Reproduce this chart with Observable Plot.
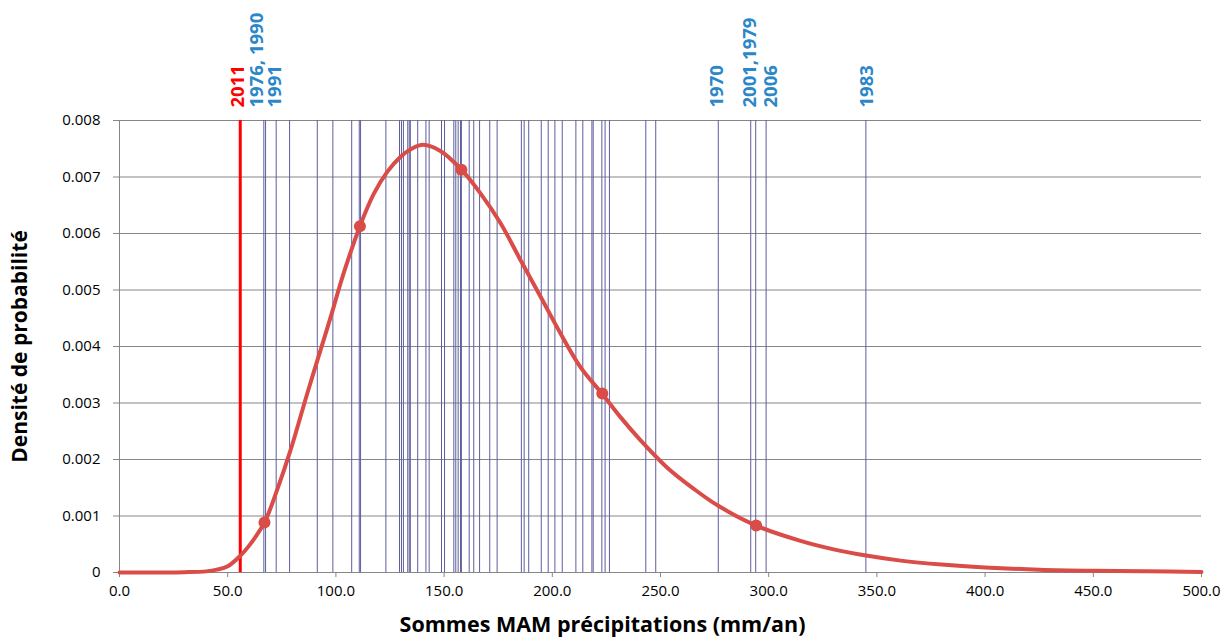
<!DOCTYPE html>
<html><head><meta charset="utf-8">
<script src="https://cdn.jsdelivr.net/npm/d3@7"></script>
<script src="https://cdn.jsdelivr.net/npm/@observablehq/plot@0.6"></script>
<style>body{margin:0;background:#fff} svg{display:block}</style>
</head><body><div id="chart"></div>
<script>
// Density curve (x: mm/an, y: probability density)
const curveX = [0, 20, 30, 40, 45, 50, 55.9, 60, 67, 73, 79, 86.7, 91.4, 97.5, 103.7, 111.1, 117.5, 123.7, 129.9, 135, 140.3, 148.3, 158, 166.8, 176.1, 185.3, 194.6, 203.8, 213.1, 223.1, 231.5, 240.8, 253, 265.4, 276.7, 294.2, 314.7, 330, 345, 361, 380, 400, 425, 450, 475, 500];
const curveY = [0, 0, 0.000005, 0.00002, 0.00005, 0.00011, 0.0003, 0.00048, 0.000887, 0.00148, 0.00216, 0.00316, 0.00375, 0.00451, 0.00531, 0.00613, 0.00670, 0.00709, 0.00736, 0.0075, 0.00757, 0.00746, 0.00713, 0.00671, 0.00618, 0.00553, 0.00488, 0.00423, 0.00363, 0.00316, 0.00275, 0.00234, 0.00186, 0.00148, 0.00118, 0.00083, 0.00056, 0.00041, 0.0003, 0.00021, 0.00014, 0.00009, 0.00005, 0.00003, 0.00002, 0.00001];
// Highlighted points on the curve
const markerX = [67, 111.1, 158, 223.1, 294.2];
const markerY = [0.000887, 0.00613, 0.00713, 0.00317, 0.00083];
// Observed yearly MAM totals (mm/an)
const yearValues = [66.7, 67.5, 72.4, 78.6, 91.4, 98.6, 107.3, 110.8, 111.4, 123.1, 129.4, 130.3, 131.2, 133.2, 133.9, 134.4, 137.8, 141.6, 143.1, 148.8, 150.2, 154.5, 155.4, 156.5, 157.6, 158.0, 161.6, 163.7, 166.4, 171.1, 174.5, 185.7, 187.0, 189.1, 194.9, 198.1, 201.2, 204.6, 210.9, 214.1, 218.3, 218.9, 222.9, 224.4, 226.4, 243.2, 247.8, 276.7, 291.7, 294.0, 298.8, 344.9];
const value2011 = 55.8;
// Year labels above the plot
const labelText = ["2011", "1976, 1990", "1991", "1970", "2001,1979", "2006", "1983"];
const labelX = [55.8, 66.7, 72.4, 276.7, 291.7, 298.8, 344.9];
const labelHighlight = [true, false, false, false, false, false, false];
// Ticks
const xTicks = [0, 50, 100, 150, 200, 250, 300, 350, 400, 450, 500];
const yTicks = [0, 0.001, 0.002, 0.003, 0.004, 0.005, 0.006, 0.007, 0.008];
const xTitle = "Sommes MAM précipitations (mm/an)";
const yTitle = "Densité de probabilité";

const curve = curveX.map((x, i) => ({x, y: curveY[i]}));
const markers = markerX.map((x, i) => ({x, y: markerY[i]}));
const labels = labelText.map((t, i) => ({t, x: labelX[i], hl: labelHighlight[i]}));
const labelDx = {"2011": -2, "1976, 1990": -7, "1991": -1, "1970": -1, "2001,1979": -1, "2006": 5, "1983": 1};

const font = "'Open Sans', sans-serif";
const blue = "#2b87c8";
const red = "#ff0000";
const curveColor = "#d94c47";
const grid = "#868686";

const labelMarks = labels.map(d => Plot.text([d], {
  x: "x", text: "t", frameAnchor: "top", rotate: -90, textAnchor: "start", lineAnchor: "middle",
  dy: -13, dx: labelDx[d.t], fill: d.hl ? red : blue, fontWeight: "bold", fontSize: 18.5
}));

const chart = Plot.plot({
  width: 1227, height: 641,
  marginLeft: 119, marginRight: 26, marginTop: 120, marginBottom: 69,
  x: {domain: [0, 500]},
  y: {domain: [0, 0.008]},
  style: {fontFamily: font, fontSize: "15px", color: "#000", background: "#fff", overflow: "visible"},
  marks: [
    Plot.gridY(yTicks, {stroke: grid, strokeOpacity: 1, strokeWidth: 1}),
    Plot.ruleX([0], {stroke: grid, strokeWidth: 1}),
    Plot.axisX(xTicks, {tickSize: 5, tickPadding: 8, stroke: grid, fill: "#000", tickFormat: d => d.toFixed(1), label: null}),
    Plot.axisY(yTicks, {tickSize: 6, tickPadding: 13, stroke: grid, fill: "#000", tickFormat: d => d === 0 ? "0" : d.toFixed(3), label: null}),
    Plot.ruleX(yearValues, {stroke: "#5d5d9e", strokeWidth: 1}),
    Plot.ruleX([value2011], {stroke: red, strokeWidth: 3}),
    Plot.line(curve, {x: "x", y: "y", curve: "catmull-rom", stroke: curveColor, strokeWidth: 4}),
    Plot.dot(markers, {x: "x", y: "y", r: 6, fill: curveColor, stroke: "none"}),
    ...labelMarks,
    Plot.text([xTitle], {frameAnchor: "bottom", textAnchor: "middle", lineAnchor: "middle", dx: -58, dy: 53, fontWeight: "bold", fontSize: 21.5, fill: "#000"}),
    Plot.text([yTitle], {frameAnchor: "left", textAnchor: "middle", lineAnchor: "middle", dx: -99, rotate: -90, fontWeight: "bold", fontSize: 21, fill: "#000"})
  ]
});
document.getElementById("chart").appendChild(chart);
</script>
</body></html>
